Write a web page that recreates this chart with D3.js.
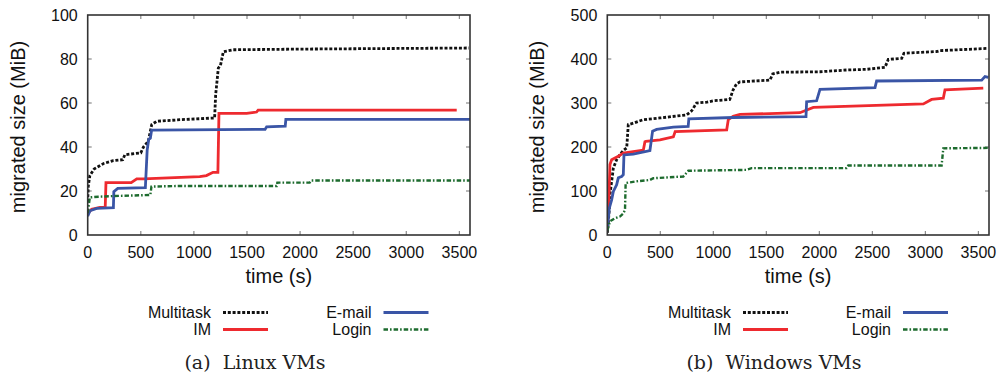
<!DOCTYPE html>
<html>
<head>
<meta charset="utf-8">
<script src="https://cdn.jsdelivr.net/npm/d3@7"></script>
<style>
  html, body { margin: 0; padding: 0; background: #fff; }
  svg { display: block; }
  .sans { font-family: "Liberation Sans", Arial, Helvetica, sans-serif; fill: #111; }
  .serif { font-family: "DejaVu Serif", "Liberation Serif", serif; fill: #222; }
</style>
</head>
<body>
<svg id="chart" width="1006" height="378"></svg>
<script>
// ---- data: migrated size (MiB) over time (s) ----
const seriesNames = ["Multitask", "IM", "E-mail", "Login"];
const xTicks = [0, 500, 1000, 1500, 2000, 2500, 3000, 3500];
const linuxYTicks = [0, 20, 40, 60, 80, 100];
const windowsYTicks = [0, 100, 200, 300, 400, 500];
const captions = ["(a)  Linux VMs", "(b)  Windows VMs"];

const linuxMultitask = [[0,15],[5,22],[20,27],[60,30],[150,32.5],[240,33.8],[330,34.2],[350,36.5],[500,37.3],[525,40],[571,42.6],[603,50.2],[650,51.7],[870,52.4],[1195,53.2],[1205,63.8],[1230,75.9],[1250,77],[1277,83.3],[1371,84.2],[2000,84.5],[3590,85]];
const linuxIM = [[0,9.8],[37,11.7],[115,12.6],[165,12.6],[172,23.8],[410,23.8],[462,25.5],[525,25.5],[1055,26.5],[1118,27],[1180,28.5],[1226,28.5],[1236,55.3],[1497,55.3],[1590,55.9],[1605,56.8],[3475,56.8]];
const linuxEmail = [[0,8.6],[22,11],[85,12.1],[242,12.4],[246,19.7],[283,21.2],[543,21.5],[560,38.6],[575,43.5],[590,44],[602,47.7],[1670,48],[1685,49.2],[1860,49.5],[1866,52.6],[3600,52.6]];
const linuxLogin = [[0,10],[20,17.1],[100,17.4],[240,17.7],[590,18.2],[600,22],[870,22.3],[1780,22.3],[1786,23.8],[2090,23.8],[2105,24.8],[3600,24.8]];

const windowsMultitask = [[0,5],[10,30],[19,61],[25,92],[41,122],[57,152],[88,171],[120,183],[151,192],[183,198],[198,251],[230,253],[339,262],[496,266],[748,273],[795,282],[842,300],[940,302],[1000,305],[1155,308],[1187,330],[1218,343],[1251,348],[1534,352],[1560,366],[1629,370],[2006,371],[2257,375],[2446,376.5],[2619,381],[2650,399],[2776,401.5],[2798,413],[3106,417],[3138,419],[3578,424]];
const windowsIM = [[0,11],[16,92],[25,160],[41,171],[104,179],[151,186],[340,193],[355,212],[364,213],[497,216],[623,223],[640,235],[1126,239],[1141,262],[1187,270],[1251,274],[1817,278],[1943,290],[2981,298],[3059,308],[3169,311],[3185,330],[3546,334]];
const windowsEmail = [[0,11],[19,61],[41,80],[57,99],[88,114],[104,130],[135,133],[151,137],[157,182],[245,184],[402,192],[427,236],[465,240],[623,245],[763,247],[769,264],[1188,267],[1874,269],[1880,303],[1974,305],[2006,331],[2525,335],[2540,350],[3531,352],[3562,360],[3594,358]];
const windowsLogin = [[0,10],[25,31],[72,38],[120,42],[151,49],[167,57],[173,118],[276,122],[402,125],[434,129],[717,133],[764,146],[1314,148],[1361,152],[2257,152],[2273,158],[3153,158],[3169,197],[3594,198]];

// ---- line styles per workload ----
const styles = {
  "Multitask": { color: "#111111", width: 2.8, dash: "3,1.8" },
  "IM":        { color: "#ee2a2f", width: 2.8, dash: null },
  "E-mail":    { color: "#3a55a6", width: 2.8, dash: null },
  "Login":     { color: "#1d6b2e", width: 2.4, dash: "4.5,2,1.6,2" }
};

const svg = d3.select("#chart");

function drawPanel(opts) {
  const { left, right, top, bottom, yMax, yTicks, series, caption, legend, id } = opts;
  const x = d3.scaleLinear().domain([0, 3600]).range([left, right]);
  const y = d3.scaleLinear().domain([0, yMax]).range([bottom, top]);
  const g = svg.append("g");

  g.append("clipPath").attr("id", id).append("rect")
    .attr("x", left).attr("y", top).attr("width", right - left).attr("height", bottom - top);

  // inward tick marks on all four sides
  const tickLen = 4;
  const tg = g.append("g").attr("stroke", "#8a8a8a").attr("stroke-width", 1.2);
  xTicks.forEach(t => {
    if (t === 0) return;
    tg.append("line").attr("x1", x(t)).attr("x2", x(t)).attr("y1", bottom).attr("y2", bottom - tickLen);
    tg.append("line").attr("x1", x(t)).attr("x2", x(t)).attr("y1", top).attr("y2", top + tickLen);
  });
  yTicks.forEach(v => {
    if (v === 0 || v === yMax) return;
    tg.append("line").attr("x1", left).attr("x2", left + tickLen).attr("y1", y(v)).attr("y2", y(v));
    tg.append("line").attr("x1", right).attr("x2", right - tickLen).attr("y1", y(v)).attr("y2", y(v));
  });

  // tick labels
  g.append("g").selectAll("text").data(xTicks).join("text")
    .attr("class", "sans").attr("x", d => x(d)).attr("y", bottom + 23)
    .attr("text-anchor", "middle").attr("font-size", 16).text(d => d);
  g.append("g").selectAll("text").data(yTicks).join("text")
    .attr("class", "sans").attr("x", left - 10).attr("y", d => y(d)).attr("dy", "0.36em")
    .attr("text-anchor", "end").attr("font-size", 16).text(d => d);

  // axis titles
  g.append("text").attr("class", "sans").attr("font-size", 20)
    .attr("x", (left + right) / 2).attr("y", bottom + 48).attr("text-anchor", "middle").text("time (s)");
  g.append("text").attr("class", "sans").attr("font-size", 20)
    .attr("transform", `translate(${left - 63},${(top + bottom) / 2 + 2}) rotate(-90)`)
    .attr("text-anchor", "middle").text("migrated size (MiB)");

  // data lines
  const line = d3.line().x(d => x(d[0])).y(d => y(d[1]));
  const lg = g.append("g").attr("clip-path", `url(#${id})`);
  seriesNames.forEach(name => {
    const s = styles[name];
    lg.append("path").datum(series[name]).attr("d", line)
      .attr("fill", "none").attr("stroke", s.color).attr("stroke-width", s.width)
      .attr("stroke-dasharray", s.dash).attr("stroke-linejoin", "miter");
  });

  // plot frame
  g.append("rect").attr("x", left).attr("y", top).attr("width", right - left).attr("height", bottom - top)
    .attr("fill", "none").attr("stroke", "#333").attr("stroke-width", 1.6);

  // legend: two columns, two rows
  const rows = [[0, 0], [0, 1], [1, 0], [1, 1]];
  seriesNames.forEach((name, i) => {
    const [col, row] = rows[i];
    const tx = legend.textRight[col];
    const ly = legend.top + row * 17;
    const s = styles[name];
    g.append("text").attr("class", "sans").attr("font-size", 16)
      .attr("x", tx).attr("y", ly + 5).attr("text-anchor", "end").text(name);
    g.append("line").attr("x1", tx + 12).attr("x2", tx + 57).attr("y1", ly - 0.5).attr("y2", ly - 0.5)
      .attr("stroke", s.color).attr("stroke-width", s.width).attr("stroke-dasharray", s.dash);
  });

  // sub-caption
  g.append("text").attr("class", "serif").attr("font-size", 19)
    .attr("x", legend.captionX).attr("y", 369).attr("text-anchor", "middle")
    .attr("xml:space", "preserve").style("white-space", "pre").text(caption);
}

drawPanel({
  id: "clipLinux", left: 87.7, right: 470, top: 15, bottom: 235,
  yMax: 100, yTicks: linuxYTicks, caption: captions[0],
  series: { "Multitask": linuxMultitask, "IM": linuxIM, "E-mail": linuxEmail, "Login": linuxLogin },
  legend: { top: 313, textRight: [211, 371.5], captionX: 255 }
});

drawPanel({
  id: "clipWindows", left: 607.3, right: 989, top: 15, bottom: 235,
  yMax: 500, yTicks: windowsYTicks, caption: captions[1],
  series: { "Multitask": windowsMultitask, "IM": windowsIM, "E-mail": windowsEmail, "Login": windowsLogin },
  legend: { top: 313, textRight: [731, 891], captionX: 774 }
});
</script>
</body>
</html>
